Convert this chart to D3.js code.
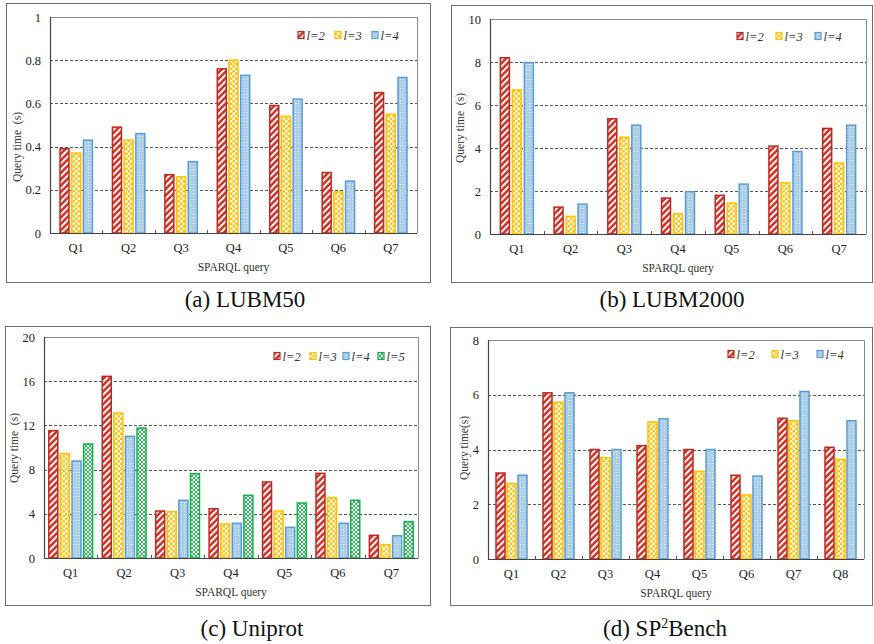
<!DOCTYPE html>
<html><head><meta charset="utf-8">
<script src="https://d3js.org/d3.v7.min.js"></script>
<style>body{margin:0;background:#fff}svg{display:block}</style>
</head><body>
<svg id="chart" width="874" height="644"></svg>
<script>
// ---------- data ----------
const queries7 = ["Q1","Q2","Q3","Q4","Q5","Q6","Q7"];
const queries8 = ["Q1","Q2","Q3","Q4","Q5","Q6","Q7","Q8"];
const seriesLabels3 = ["l=2","l=3","l=4"];
const seriesLabels4 = ["l=2","l=3","l=4","l=5"];

const lubm50_l2 = [0.39,0.49,0.27,0.76,0.59,0.28,0.65];
const lubm50_l3 = [0.37,0.43,0.26,0.80,0.54,0.19,0.55];
const lubm50_l4 = [0.43,0.46,0.33,0.73,0.62,0.24,0.72];
const lubm50Ticks = [0,0.2,0.4,0.6,0.8,1];

const lubm2000_l2 = [8.20,1.25,5.36,1.67,1.80,4.09,4.91];
const lubm2000_l3 = [6.70,0.82,4.50,0.94,1.44,2.38,3.30];
const lubm2000_l4 = [7.97,1.39,5.06,1.97,2.32,3.84,5.06];
const lubm2000Ticks = [0,2,4,6,8,10];

const uniprot_l2 = [11.52,16.44,4.25,4.46,6.88,7.66,2.05];
const uniprot_l3 = [9.44,13.12,4.19,3.08,4.25,5.46,1.21];
const uniprot_l4 = [8.78,11.01,5.22,3.14,2.78,3.14,2.02];
const uniprot_l5 = [10.32,11.76,7.63,5.67,4.98,5.22,3.29];
const uniprotTicks = [0,4,8,12,16,20];

const sp2_l2 = [3.14,6.07,4.00,4.14,4.00,3.06,5.14,4.08];
const sp2_l3 = [2.76,5.73,3.70,5.01,3.20,2.34,5.05,3.64];
const sp2_l4 = [3.06,6.07,4.00,5.12,4.00,3.03,6.12,5.05];
const sp2Ticks = [0,2,4,6,8];

// ---------- styles ----------
const patIds = ["patRed","patYellow","patBlue","patGreen"];
const strokeCols = ["#c0281e","#ffc000","#5b9bd5","#14b04a"];
const serif = "'Liberation Serif','Times New Roman',serif";

const svg = d3.select("#chart");
const defs = svg.append("defs");

// red diagonal stripes
let p = defs.append("pattern").attr("id","patRed").attr("patternUnits","userSpaceOnUse")
  .attr("width",4.5).attr("height",4.5).attr("patternTransform","rotate(45)");
p.append("rect").attr("width",4.5).attr("height",4.5).attr("fill","#cc2f24");
p.append("rect").attr("x",0).attr("width",2).attr("height",4.5).attr("fill","#fff");
// yellow checker
p = defs.append("pattern").attr("id","patYellow").attr("patternUnits","userSpaceOnUse")
  .attr("width",5).attr("height",5);
p.append("rect").attr("width",5).attr("height",5).attr("fill","#ffc20e");
p.append("rect").attr("x",0).attr("y",0).attr("width",2.5).attr("height",2.5).attr("fill","#fff");
p.append("rect").attr("x",2.5).attr("y",2.5).attr("width",2.5).attr("height",2.5).attr("fill","#fff");
// blue dots
p = defs.append("pattern").attr("id","patBlue").attr("patternUnits","userSpaceOnUse")
  .attr("width",3).attr("height",3);
p.append("rect").attr("width",3).attr("height",3).attr("fill","#a9cdeb");
p.append("rect").attr("x",1).attr("y",1).attr("width",1).attr("height",1).attr("fill","#eef5fc");
// green crosshatch
p = defs.append("pattern").attr("id","patGreen").attr("patternUnits","userSpaceOnUse")
  .attr("width",4).attr("height",4);
p.append("rect").attr("width",4).attr("height",4).attr("fill","#fff");
p.append("path").attr("d","M0,0L4,4M4,0L0,4").attr("stroke","#19b24c").attr("stroke-width",0.9);

// ---------- panels ----------
const panels = [
  {cats:queries7, series:[lubm50_l2,lubm50_l3,lubm50_l4], labels:seriesLabels3, ticks:lubm50Ticks,
   frame:[6,3,430,282], plot:[50,17,417,233], stride:11.7, legX:[298,335,372], legY:35,
   titleX:17, titleY:147, yTitle:"Query time\u2002(s)", cap:["(a) LUBM50"], capX:245, capY:307},
  {cats:queries7, series:[lubm2000_l2,lubm2000_l3,lubm2000_l4], labels:seriesLabels3, ticks:lubm2000Ticks,
   frame:[451,5,872,282], plot:[490,19,866,234], stride:12, legX:[737,776,815], legY:36,
   titleX:460, titleY:128, yTitle:"Query time\u2002(s)", cap:["(b) LUBM2000"], capX:672, capY:307},
  {cats:queries7, series:[uniprot_l2,uniprot_l3,uniprot_l4,uniprot_l5], labels:seriesLabels4, ticks:uniprotTicks,
   frame:[5,326,430,605], plot:[44,337,418,558], stride:11.6, legX:[274,310,343,378], legY:356,
   titleX:14, titleY:448, yTitle:"Query time\u2002(s)", cap:["(c) Uniprot"], capX:252, capY:636},
  {cats:queries8, series:[sp2_l2,sp2_l3,sp2_l4], labels:seriesLabels3, ticks:sp2Ticks,
   frame:[450,327,872,605], plot:[488,340,864,559], stride:11, legX:[728,772,817], legY:354,
   titleX:464, titleY:448, yTitle:"Query time(s)", cap:["(d) SP","2","Bench"], capX:665, capY:636}
];

panels.forEach(P => {
  const g = svg.append("g");
  const [fx0,fy0,fx1,fy1] = P.frame;
  const [pl,pt,pr,pb] = P.plot;
  g.append("rect").attr("x",fx0+0.5).attr("y",fy0+0.5).attr("width",fx1-fx0).attr("height",fy1-fy0)
    .attr("fill","none").attr("stroke","#6f6f6f").attr("stroke-width",1);

  const x = d3.scaleBand().domain(P.cats).range([pl,pr]).padding(0);
  const yMax = P.ticks[P.ticks.length-1];
  const y = d3.scaleLinear().domain([0,yMax]).range([pb,pt]);
  const n = P.series.length;
  const inner = d3.scaleBand().domain(d3.range(n)).range([-n*P.stride/2, n*P.stride/2]).padding(0);
  const bw = 9;

  // plot border (top/right)
  g.append("path").attr("d",`M${pl},${pt+0.5}H${pr+0.5}V${pb}`).attr("fill","none")
    .attr("stroke","#8a8a8a").attr("stroke-width",1);

  // gridlines
  g.selectAll(".grid").data(P.ticks.filter(t => t>0 && t<yMax)).join("line")
    .attr("x1",pl).attr("x2",pr).attr("y1",d=>Math.round(y(d))+0.5).attr("y2",d=>Math.round(y(d))+0.5)
    .attr("stroke","#555").attr("stroke-width",1).attr("stroke-dasharray","3,2");

  // bars
  P.series.forEach((vals,si) => {
    g.selectAll(null).data(vals.map((v,i)=>({cat:P.cats[i],v}))).join("rect")
      .attr("x",d => x(d.cat) + x.bandwidth()/2 + inner(si) + (inner.bandwidth()-bw)/2)
      .attr("y",d => y(d.v))
      .attr("width",bw)
      .attr("height",d => y(0)-y(d.v))
      .attr("fill",`url(#${patIds[si]})`)
      .attr("stroke",strokeCols[si]).attr("stroke-width",1.5);
  });

  // y axis
  const ya = g.append("g").attr("transform",`translate(${pl},0)`)
    .call(d3.axisLeft(y).tickValues(P.ticks).tickSize(0).tickPadding(9).tickFormat(d=>String(d)));
  ya.select(".domain").attr("stroke","#444").attr("stroke-width",1.2).attr("d",`M0.5,${pt}V${pb}`);
  ya.selectAll("text").attr("font-family",serif).attr("font-size",12.5).attr("fill","#222");

  // x axis
  const xa = g.append("g").attr("transform",`translate(0,${pb})`)
    .call(d3.axisBottom(x).tickSize(0).tickPadding(10));
  xa.select(".domain").attr("stroke","#444").attr("stroke-width",1.2).attr("d",`M${pl},0.5H${pr}`);
  xa.selectAll("text").attr("font-family",serif).attr("font-size",12.5).attr("fill","#222");
  // small separator ticks between categories
  g.selectAll(".sep").data(P.cats.slice(1)).join("line")
    .attr("x1",d=>Math.round(x(d))+0.5).attr("x2",d=>Math.round(x(d))+0.5)
    .attr("y1",pb-3).attr("y2",pb).attr("stroke","#555").attr("stroke-width",1);

  // axis titles
  g.append("text").attr("x",(pl+pr)/2).attr("y",pb+38).attr("text-anchor","middle")
    .attr("font-family",serif).attr("font-size",11.5).attr("fill","#333").text("SPARQL query");
  g.append("text").attr("transform",`translate(${P.titleX+4},${P.titleY}) rotate(-90)`)
    .attr("text-anchor","middle").attr("font-family",serif).attr("font-size",11.5)
    .attr("fill","#333").text(P.yTitle);

  // legend
  P.labels.forEach((lab,si) => {
    g.append("rect").attr("x",P.legX[si]).attr("y",P.legY-3.5).attr("width",6).attr("height",7)
      .attr("fill",`url(#${patIds[si]})`).attr("stroke",strokeCols[si]).attr("stroke-width",1.2);
    g.append("text").attr("x",P.legX[si]+8.5).attr("y",P.legY+4.5)
      .attr("font-family",serif).attr("font-style","italic").attr("font-size",12.5)
      .attr("fill","#333").text(lab);
  });

  // caption
  const cap = g.append("text").attr("x",P.capX).attr("y",P.capY).attr("text-anchor","middle")
    .attr("font-family",serif).attr("font-size",23).attr("fill","#111");
  if (P.cap.length === 1) cap.text(P.cap[0]);
  else {
    cap.append("tspan").text(P.cap[0]);
    cap.append("tspan").attr("dy",-8).attr("font-size",14).text(P.cap[1]);
    cap.append("tspan").attr("dy",8).text(P.cap[2]);
  }
});
</script>
</body></html>
